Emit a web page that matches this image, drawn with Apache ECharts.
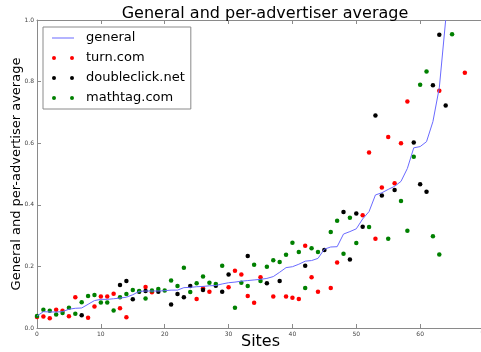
<!DOCTYPE html>
<html>
<head>
<meta charset="utf-8">
<script src="https://cdn.jsdelivr.net/npm/echarts@6/dist/echarts.min.js"></script>
<style>
  html, body { margin: 0; padding: 0; background: #fff; }
  #chart { width: 481px; height: 352px; }
</style>
</head>
<body>
<div id="chart"></div>
<script>
// Running general average, one value per site (sites sorted by it)
const generalAvg = [
  0.039, 0.053, 0.052, 0.052, 0.053, 0.061, 0.064, 0.065, 0.077, 0.089,
  0.093, 0.093, 0.095, 0.097, 0.100, 0.108, 0.119, 0.120, 0.120, 0.120,
  0.121, 0.123, 0.123, 0.131, 0.132, 0.134, 0.135, 0.137, 0.138, 0.143,
  0.147, 0.149, 0.152, 0.154, 0.156, 0.158, 0.161, 0.167, 0.181, 0.196,
  0.199, 0.207, 0.217, 0.219, 0.226, 0.256, 0.263, 0.264, 0.305, 0.313,
  0.322, 0.354, 0.378, 0.432, 0.439, 0.450, 0.460, 0.476, 0.518, 0.585,
  0.589, 0.605, 0.670, 0.780, 1.000
];

// Per-advertiser averages: [site, value]
const turnCom = [
  [0, 0.036], [1, 0.037], [2, 0.032], [3, 0.059], [4, 0.056], [5, 0.038],
  [6, 0.100], [8, 0.033], [9, 0.070], [10, 0.102], [11, 0.102], [12, 0.111],
  [13, 0.064], [14, 0.035], [17, 0.133], [18, 0.116], [25, 0.094], [26, 0.129],
  [27, 0.118], [30, 0.132], [31, 0.186], [32, 0.174], [33, 0.104], [34, 0.082],
  [35, 0.165], [37, 0.102], [39, 0.102], [40, 0.098], [41, 0.094], [42, 0.267],
  [43, 0.165], [44, 0.118], [46, 0.130], [47, 0.213], [51, 0.366], [52, 0.570],
  [53, 0.290], [54, 0.456], [55, 0.620], [56, 0.470], [57, 0.600], [58, 0.735],
  [63, 0.770], [67, 0.829]
];

const doubleclickNet = [
  [7, 0.041], [13, 0.140], [14, 0.153], [15, 0.093], [16, 0.118], [17, 0.120],
  [19, 0.118], [21, 0.076], [22, 0.110], [23, 0.100], [24, 0.136], [26, 0.123],
  [28, 0.137], [29, 0.118], [30, 0.174], [33, 0.234], [36, 0.145], [38, 0.153],
  [42, 0.202], [45, 0.253], [48, 0.377], [49, 0.222], [50, 0.372], [51, 0.329],
  [53, 0.690], [54, 0.430], [56, 0.448], [59, 0.602], [60, 0.467], [61, 0.442],
  [62, 0.788], [63, 0.952], [64, 0.722]
];

const mathtagCom = [
  [0, 0.039], [1, 0.059], [2, 0.056], [3, 0.044], [4, 0.049], [5, 0.066],
  [6, 0.046], [7, 0.084], [8, 0.104], [9, 0.107], [10, 0.083], [11, 0.083],
  [12, 0.057], [13, 0.100], [14, 0.110], [15, 0.123], [16, 0.120], [17, 0.096],
  [18, 0.122], [19, 0.127], [20, 0.122], [21, 0.154], [22, 0.136], [23, 0.196],
  [24, 0.117], [25, 0.145], [26, 0.167], [27, 0.147], [28, 0.143], [29, 0.202],
  [31, 0.066], [32, 0.147], [33, 0.136], [34, 0.205], [35, 0.153], [36, 0.199],
  [37, 0.220], [38, 0.214], [39, 0.238], [40, 0.277], [41, 0.247], [42, 0.130],
  [43, 0.259], [44, 0.247], [46, 0.312], [47, 0.348], [48, 0.241], [49, 0.358],
  [50, 0.276], [52, 0.328], [55, 0.290], [57, 0.412], [58, 0.316], [59, 0.556],
  [60, 0.790], [61, 0.833], [62, 0.298], [63, 0.239], [65, 0.954]
];

const seriesNames = ['general', 'turn.com', 'doubleclick.net', 'mathtag.com'];
const xTicks = { min: 0, max: 70, step: 10 };
const yTicks = { min: 0, max: 1, step: 0.2 };

const FONT = 'DejaVu Sans';
const FRAME = '#8a8a8a';
// legend markers: two dots side by side, and a thin line (zero-area end caps keep the box 22x4)
const TWO_DOTS = 'path://M0,2A2,2,0,1,1,4,2A2,2,0,1,1,0,2ZM18,2A2,2,0,1,1,22,2A2,2,0,1,1,18,2Z';
const THIN_LINE = 'path://M0,0L0.01,0L0,0ZM0,1.5H22V2.5H0ZM22,4L21.99,4L22,4Z';

const chart = echarts.init(document.getElementById('chart'), null, { renderer: 'canvas' });

const tickLabel = { fontFamily: FONT, fontSize: 6, color: '#444', margin: 3 };

chart.setOption({
  animation: false,
  backgroundColor: '#fff',
  title: {
    text: 'General and per-advertiser average',
    left: 260,
    top: 1,
    textAlign: 'center',
    textStyle: { fontFamily: FONT, fontSize: 16, fontWeight: 'normal', color: '#000' }
  },
  grid: {
    left: 37, top: 20, width: 447, height: 308,
    containLabel: false, outerBoundsMode: 'none'
  },
  legend: {
    orient: 'vertical',
    left: 43,
    top: 27,
    padding: [3, 6, 3, 9],
    itemGap: 4,
    itemWidth: 22,
    itemHeight: 4,
    backgroundColor: '#fff',
    borderColor: FRAME,
    borderWidth: 1,
    borderRadius: 0,
    z: 10,
    textStyle: { fontFamily: FONT, fontSize: 13, color: '#000', lineHeight: 16, padding: [0, 0, 0, 7] },
    data: [
      { name: seriesNames[0], icon: THIN_LINE },
      { name: seriesNames[1], icon: TWO_DOTS },
      { name: seriesNames[2], icon: TWO_DOTS },
      { name: seriesNames[3], icon: TWO_DOTS }
    ]
  },
  xAxis: [
    {
      type: 'value', position: 'bottom',
      min: xTicks.min, max: xTicks.max, interval: xTicks.step,
      name: 'Sites', nameLocation: 'middle', nameGap: 6, nameMoveOverlap: false,
      nameTextStyle: { fontFamily: FONT, fontSize: 16, color: '#000', verticalAlign: 'top' },
      axisLine: { show: true, lineStyle: { color: FRAME, width: 1 } },
      axisTick: { show: true, inside: true, length: 4, lineStyle: { color: FRAME } },
      axisLabel: tickLabel,
      splitLine: { show: false }
    },
    {
      type: 'value', position: 'top',
      min: xTicks.min, max: xTicks.max, interval: xTicks.step,
      axisLine: { show: true, lineStyle: { color: FRAME, width: 1 } },
      axisTick: { show: true, inside: true, length: 4, lineStyle: { color: FRAME } },
      axisLabel: { show: false },
      splitLine: { show: false }
    }
  ],
  yAxis: [
    {
      type: 'value', position: 'left',
      min: yTicks.min, max: yTicks.max, interval: yTicks.step,
      name: 'General and per-advertiser average', nameLocation: 'middle', nameGap: 14,
      nameMoveOverlap: false,
      nameRotate: 90,
      nameTextStyle: { fontFamily: FONT, fontSize: 13, color: '#000' },
      axisLine: { show: true, lineStyle: { color: FRAME, width: 1 } },
      axisTick: { show: true, inside: true, length: 4, lineStyle: { color: FRAME } },
      axisLabel: Object.assign({}, tickLabel, { formatter: v => v.toFixed(1) }),
      splitLine: { show: false }
    }
  ],
  series: [
    {
      name: seriesNames[0], type: 'line',
      data: generalAvg.map((v, i) => [i, v]),
      showSymbol: false, symbol: 'none',
      lineStyle: { color: '#6a6aff', width: 1 },
      itemStyle: { color: '#6a6aff' },
      clip: true
    },
    {
      name: seriesNames[1], type: 'scatter', data: turnCom,
      symbolSize: 4.5, itemStyle: { color: '#ff0000', opacity: 1 }
    },
    {
      name: seriesNames[2], type: 'scatter', data: doubleclickNet,
      symbolSize: 4.5, itemStyle: { color: '#000000', opacity: 1 }
    },
    {
      name: seriesNames[3], type: 'scatter', data: mathtagCom,
      symbolSize: 4.5, itemStyle: { color: '#008000', opacity: 1 }
    }
  ]
});
</script>
</body>
</html>
